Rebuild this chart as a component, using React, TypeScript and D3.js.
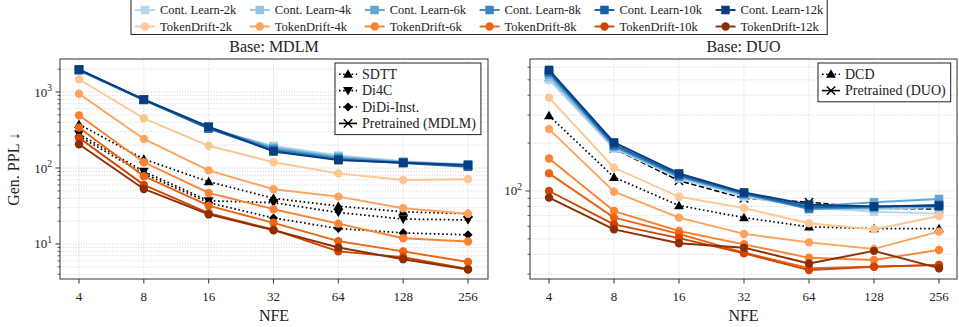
import React from 'react';
import * as d3 from 'd3';

// ---------------- data ----------------
const NFE = [4, 8, 16, 32, 64, 128, 256];
const SIZE_LABELS = ['2k', '4k', '6k', '8k', '10k', '12k'];

// Base: MDLM
const MDLM_CONT_2K = [1900, 775, 330, 195, 146, 123, 112];
const MDLM_CONT_4K = [1920, 785, 335, 190, 142, 121, 110];
const MDLM_CONT_6K = [1940, 795, 340, 182, 138, 119, 108];
const MDLM_CONT_8K = [1950, 800, 345, 176, 134, 118, 106];
const MDLM_CONT_10K = [1960, 790, 330, 168, 129, 116, 104];
const MDLM_CONT_12K = [1980, 795, 350, 165, 127, 117, 110];

const MDLM_TD_2K = [1470, 451, 196, 119, 85, 69.5, 71];
const MDLM_TD_4K = [950, 241, 93, 52.5, 42, 29.5, 25];
const MDLM_TD_6K = [493, 119, 47, 28.7, 18.5, 11.9, 10.8];
const MDLM_TD_8K = [340, 78, 32, 19, 10.9, 8.0, 5.8];
const MDLM_TD_10K = [250, 60, 25.5, 15.4, 8.0, 6.7, 4.7];
const MDLM_TD_12K = [205, 53, 24.5, 15.2, 9.0, 6.3, 4.6];

const MDLM_SDTT = [375, 131, 66, 40, 31.5, 26.5, 25];
const MDLM_DI4C = [280, 90, 37, 35, 26, 21.3, 20.7];
const MDLM_DIDI = [262, 84, 35, 22, 16, 14, 13.2];
const MDLM_PRETRAINED = [1950, 790, 340, 180, 135, 118, 108];

// Base: DUO
const DUO_CONT_2K = [500, 185, 120, 92, 79, 74, 72];
const DUO_CONT_4K = [520, 188, 122, 94, 78, 77, 79];
const DUO_CONT_6K = [540, 190, 123, 95, 80, 85, 89];
const DUO_CONT_8K = [555, 192, 124, 96, 77, 79, 82];
const DUO_CONT_10K = [565, 196, 126, 97, 79, 80, 80];
const DUO_CONT_12K = [577, 202, 129, 98, 82, 80, 81];

const DUO_TD_2K = [386, 140, 92, 78, 62.7, 57.4, 69.6];
const DUO_TD_4K = [245, 99, 68, 53.7, 47.5, 43.2, 55.5];
const DUO_TD_6K = [160, 74.8, 56, 46.2, 38, 36.8, 42.6];
const DUO_TD_8K = [129, 68, 53.7, 41, 32.7, 33.4, 34.3];
const DUO_TD_10K = [100, 61.7, 50.5, 40.6, 31.8, 33.4, 34.3];
const DUO_TD_12K = [90.8, 57.4, 46.9, 44, 35, 42, 32.7];

const DUO_DCD = [298, 122, 81, 68, 59.5, 58, 58];
const DUO_PRETRAINED = [520, 185, 116, 90, 85, 78, 77];

const BLUES = ['#b9d6ec', '#94c4df', '#5fa6d1', '#3a87c2', '#1561a9', '#083d7f'];
const ORANGES = ['#fdc692', '#fda35e', '#fb8230', '#ec6310', '#cf4503', '#8e2e04'];

const FONT = '"Liberation Serif", "DejaVu Serif", serif';
const TICK_FS = 13;
const LEG_FS = 14;
const TOP_LEG_FS = 12.5;
const TITLE_FS = 16;

type Marker = 'square' | 'circle' | 'tri' | 'triDown' | 'diamond' | 'x';
interface Series {
  name: string;
  values: number[];
  color: string;
  marker: Marker;
  dash?: string;
  width: number;
}

function MarkerShape({ m, x, y, color }: { m: Marker; x: number; y: number; color: string }) {
  if (m === 'square') return <rect x={x - 4} y={y - 4} width={8} height={8} fill={color} stroke={color} strokeWidth={0.5} />;
  if (m === 'circle') return <circle cx={x} cy={y} r={4.2} fill={color} />;
  if (m === 'tri') {
    const p = d3.symbol().type(d3.symbolTriangle).size(42)();
    return <path d={p || ''} transform={`translate(${x},${y + 0.8})`} fill={color} />;
  }
  if (m === 'triDown') {
    const p = d3.symbol().type(d3.symbolTriangle).size(42)();
    return <path d={p || ''} transform={`translate(${x},${y - 0.8}) rotate(180)`} fill={color} />;
  }
  if (m === 'diamond') {
    const s = 4.6;
    return <path d={`M${x},${y - s}L${x + s},${y}L${x},${y + s}L${x - s},${y}Z`} fill={color} />;
  }
  const s = 4.2;
  return (
    <g stroke={color} strokeWidth={1.4}>
      <line x1={x - s} y1={y - s} x2={x + s} y2={y + s} />
      <line x1={x - s} y1={y + s} x2={x + s} y2={y - s} />
    </g>
  );
}

interface PanelProps {
  title: string;
  frame: { l: number; r: number; t: number; b: number };
  xRange: [number, number];
  yDomain: [number, number];
  series: Series[];
  legend: { label: string; marker: Marker; dash?: string }[];
  legendBox: { x: number; y: number; rowH: number };
  showYLabel: boolean;
}

function Panel({ title, frame, xRange, yDomain, series, legend, legendBox, showYLabel }: PanelProps) {
  const x = d3.scaleLog().base(2).domain([4, 256]).range(xRange);
  const y = d3.scaleLog().domain(yDomain).range([frame.b, frame.t]);
  const lo = yDomain[0], hi = yDomain[1];
  const majors: number[] = [];
  const minors: number[] = [];
  for (let k = Math.floor(Math.log10(lo)); k <= Math.ceil(Math.log10(hi)); k++) {
    const base = Math.pow(10, k);
    if (base >= lo && base <= hi) majors.push(base);
    for (let m = 2; m <= 9; m++) {
      const v = m * base;
      if (v >= lo && v <= hi) minors.push(v);
    }
  }
  const line = d3
    .line<number>()
    .x((_, i) => x(NFE[i]))
    .y((v) => y(v));
  const cx = (frame.l + frame.r) / 2;
  const gridStyle = { stroke: '#cccccc', strokeWidth: 0.8, strokeDasharray: '1,1.6' };

  const textW = Math.max(...legend.map((e) => measure(e.label, LEG_FS)));
  const lbW = 27 + textW + 5;
  const lbH = legend.length * legendBox.rowH + 6;

  return (
    <g fontFamily={FONT}>
      {[...majors, ...minors].map((v, i) => (
        <line key={'gy' + i} x1={frame.l} x2={frame.r} y1={y(v)} y2={y(v)} {...gridStyle} />
      ))}
      {NFE.map((n) => (
        <line key={'gx' + n} x1={x(n)} x2={x(n)} y1={frame.t} y2={frame.b} {...gridStyle} />
      ))}
      {series.map((s, si) => (
        <g key={'s' + si}>
          <path
            d={line(s.values) || ''}
            fill="none"
            stroke={s.color}
            strokeWidth={s.width}
            strokeDasharray={s.dash}
            strokeLinejoin="round"
          />
          {s.values.map((v, i) => (
            <MarkerShape key={i} m={s.marker} x={x(NFE[i])} y={y(v)} color={s.color} />
          ))}
        </g>
      ))}
      <rect x={frame.l} y={frame.t} width={frame.r - frame.l} height={frame.b - frame.t} fill="none" stroke="#333" strokeWidth={1} />
      {NFE.map((n) => (
        <g key={'xt' + n}>
          <line x1={x(n)} x2={x(n)} y1={frame.b} y2={frame.b + 4.5} stroke="#333" strokeWidth={1} />
          <text x={x(n)} y={frame.b + 21.5} textAnchor="middle" fontSize={TICK_FS} fill="#222">
            {n}
          </text>
        </g>
      ))}
      {majors.map((v) => (
        <g key={'ym' + v}>
          <line x1={frame.l - 4.5} x2={frame.l} y1={y(v)} y2={y(v)} stroke="#333" strokeWidth={1} />
          <text x={frame.l - 8} y={y(v) + 4.5} textAnchor="end" fontSize={TICK_FS} fill="#222">
            10
            <tspan dy={-5.5} fontSize={9.5}>
              {Math.round(Math.log10(v))}
            </tspan>
          </text>
        </g>
      ))}
      {minors.map((v, i) => (
        <line key={'yn' + i} x1={frame.l - 2.5} x2={frame.l} y1={y(v)} y2={y(v)} stroke="#333" strokeWidth={0.8} />
      ))}
      <text x={cx} y={frame.t - 7} textAnchor="middle" fontSize={TITLE_FS} fill="#222">
        {title}
      </text>
      <text x={cx} y={frame.b + 42} textAnchor="middle" fontSize={TITLE_FS} fill="#222">
        NFE
      </text>
      {showYLabel && (
        <text transform={`translate(19,${(frame.t + frame.b) / 2}) rotate(-90)`} textAnchor="middle" fontSize={TITLE_FS} fill="#222">
          Gen. PPL  ↓
        </text>
      )}
      <g>
        <rect x={legendBox.x} y={legendBox.y} width={lbW} height={lbH} fill="white" stroke="#222" strokeWidth={1} />
        {legend.map((e, i) => {
          const ly = legendBox.y + 3 + legendBox.rowH * (i + 0.5);
          const hx0 = legendBox.x + 4;
          const hx1 = hx0 + 18;
          return (
            <g key={'lg' + i}>
              <line x1={hx0} x2={hx1} y1={ly} y2={ly} stroke="#000" strokeWidth={1.6} strokeDasharray={e.dash} />
              <MarkerShape m={e.marker} x={(hx0 + hx1) / 2} y={ly} color="#000" />
              <text x={hx1 + 5} y={ly + 4.5} fontSize={LEG_FS} fill="#222">
                {e.label}
              </text>
            </g>
          );
        })}
      </g>
    </g>
  );
}

let _ctx: CanvasRenderingContext2D | null = null;
function measure(text: string, fs: number): number {
  if (!_ctx) {
    const c = document.createElement('canvas');
    _ctx = c.getContext('2d');
  }
  if (!_ctx) return text.length * fs * 0.5;
  _ctx.font = `${fs}px "Liberation Serif"`;
  return _ctx.measureText(text).width;
}

function buildSeries(cont: number[][], td: number[][], baselines: Series[]): Series[] {
  const out: Series[] = [...baselines.filter((b) => b.name.startsWith('Pretrained'))];
  out.push(...baselines.filter((b) => !b.name.startsWith('Pretrained')));
  cont.forEach((v, i) =>
    out.push({ name: 'Cont. Learn-' + SIZE_LABELS[i], values: v, color: BLUES[i], marker: 'square', width: 1.9 })
  );
  td.forEach((v, i) =>
    out.push({ name: 'TokenDrift-' + SIZE_LABELS[i], values: v, color: ORANGES[i], marker: 'circle', width: 1.9 })
  );
  return out;
}

const DOT = '1.6,2.6';
const DASH = '5.5,2.4';

export default function App() {
  const mdlmSeries = buildSeries(
    [MDLM_CONT_2K, MDLM_CONT_4K, MDLM_CONT_6K, MDLM_CONT_8K, MDLM_CONT_10K, MDLM_CONT_12K],
    [MDLM_TD_2K, MDLM_TD_4K, MDLM_TD_6K, MDLM_TD_8K, MDLM_TD_10K, MDLM_TD_12K],
    [
      { name: 'Pretrained (MDLM)', values: MDLM_PRETRAINED, color: '#000', marker: 'x', width: 1.6 },
      { name: 'SDTT', values: MDLM_SDTT, color: '#000', marker: 'tri', dash: DOT, width: 1.7 },
      { name: 'Di4C', values: MDLM_DI4C, color: '#000', marker: 'triDown', dash: DOT, width: 1.7 },
      { name: 'DiDi-Inst.', values: MDLM_DIDI, color: '#000', marker: 'diamond', dash: DOT, width: 1.7 },
    ]
  );
  const duoSeries = buildSeries(
    [DUO_CONT_2K, DUO_CONT_4K, DUO_CONT_6K, DUO_CONT_8K, DUO_CONT_10K, DUO_CONT_12K],
    [DUO_TD_2K, DUO_TD_4K, DUO_TD_6K, DUO_TD_8K, DUO_TD_10K, DUO_TD_12K],
    [
      { name: 'Pretrained (DUO)', values: DUO_PRETRAINED, color: '#000', marker: 'x', dash: DASH, width: 1.6 },
      { name: 'DCD', values: DUO_DCD, color: '#000', marker: 'tri', dash: DOT, width: 1.7 },
    ]
  );

  const topEntries: { label: string; color: string; marker: Marker }[][] = [
    SIZE_LABELS.map((s, i) => ({ label: 'Cont. Learn-' + s, color: BLUES[i], marker: 'square' as Marker })),
    SIZE_LABELS.map((s, i) => ({ label: 'TokenDrift-' + s, color: ORANGES[i], marker: 'circle' as Marker })),
  ];
  const colW = SIZE_LABELS.map((_, i) =>
    Math.max(measure(topEntries[0][i].label, TOP_LEG_FS), measure(topEntries[1][i].label, TOP_LEG_FS))
  );
  const legX0 = 131;
  const colGap = 13.5;
  const colStarts: number[] = [];
  let acc = legX0 + 4;
  colW.forEach((w) => {
    colStarts.push(acc);
    acc += 25 + w + colGap;
  });
  const legRight = acc - colGap + 4;

  return (
    <svg width={959} height={327} style={{ position: 'absolute', left: 0, top: 0, background: 'white' }}>
      <rect x={0} y={0} width={959} height={327} fill="white" />
      <Panel
        title="Base: MDLM"
        frame={{ l: 60, r: 488, t: 59, b: 279 }}
        xRange={[79, 468]}
        yDomain={[3.463, 2718]}
        series={mdlmSeries}
        legend={[
          { label: 'SDTT', marker: 'tri', dash: DOT },
          { label: 'Di4C', marker: 'triDown', dash: DOT },
          { label: 'DiDi-Inst.', marker: 'diamond', dash: DOT },
          { label: 'Pretrained (MDLM)', marker: 'x' },
        ]}
        legendBox={{ x: 335, y: 63, rowH: 16.4 }}
        showYLabel={true}
      />
      <Panel
        title="Base: DUO"
        frame={{ l: 530, r: 957, t: 59, b: 279 }}
        xRange={[549, 939]}
        yDomain={[27.96, 676]}
        series={duoSeries}
        legend={[
          { label: 'DCD', marker: 'tri', dash: DOT },
          { label: 'Pretrained (DUO)', marker: 'x' },
        ]}
        legendBox={{ x: 818, y: 63, rowH: 16.4 }}
        showYLabel={false}
      />
      <g fontFamily={FONT}>
        <rect x={legX0} y={-1} width={legRight - legX0} height={35.5} fill="white" stroke="#222" strokeWidth={1} />
        {topEntries.map((row, r) =>
          row.map((e, i) => {
            const ly = 10 + r * 16.5;
            const hx0 = colStarts[i];
            const hx1 = hx0 + 20;
            return (
              <g key={`tl${r}-${i}`}>
                <line x1={hx0} x2={hx1} y1={ly} y2={ly} stroke={e.color} strokeWidth={1.9} />
                <MarkerShape m={e.marker} x={(hx0 + hx1) / 2} y={ly} color={e.color} />
                <text x={hx0 + 25} y={ly + 4.3} fontSize={TOP_LEG_FS} fill="#222">
                  {e.label}
                </text>
              </g>
            );
          })
        )}
      </g>
    </svg>
  );
}
